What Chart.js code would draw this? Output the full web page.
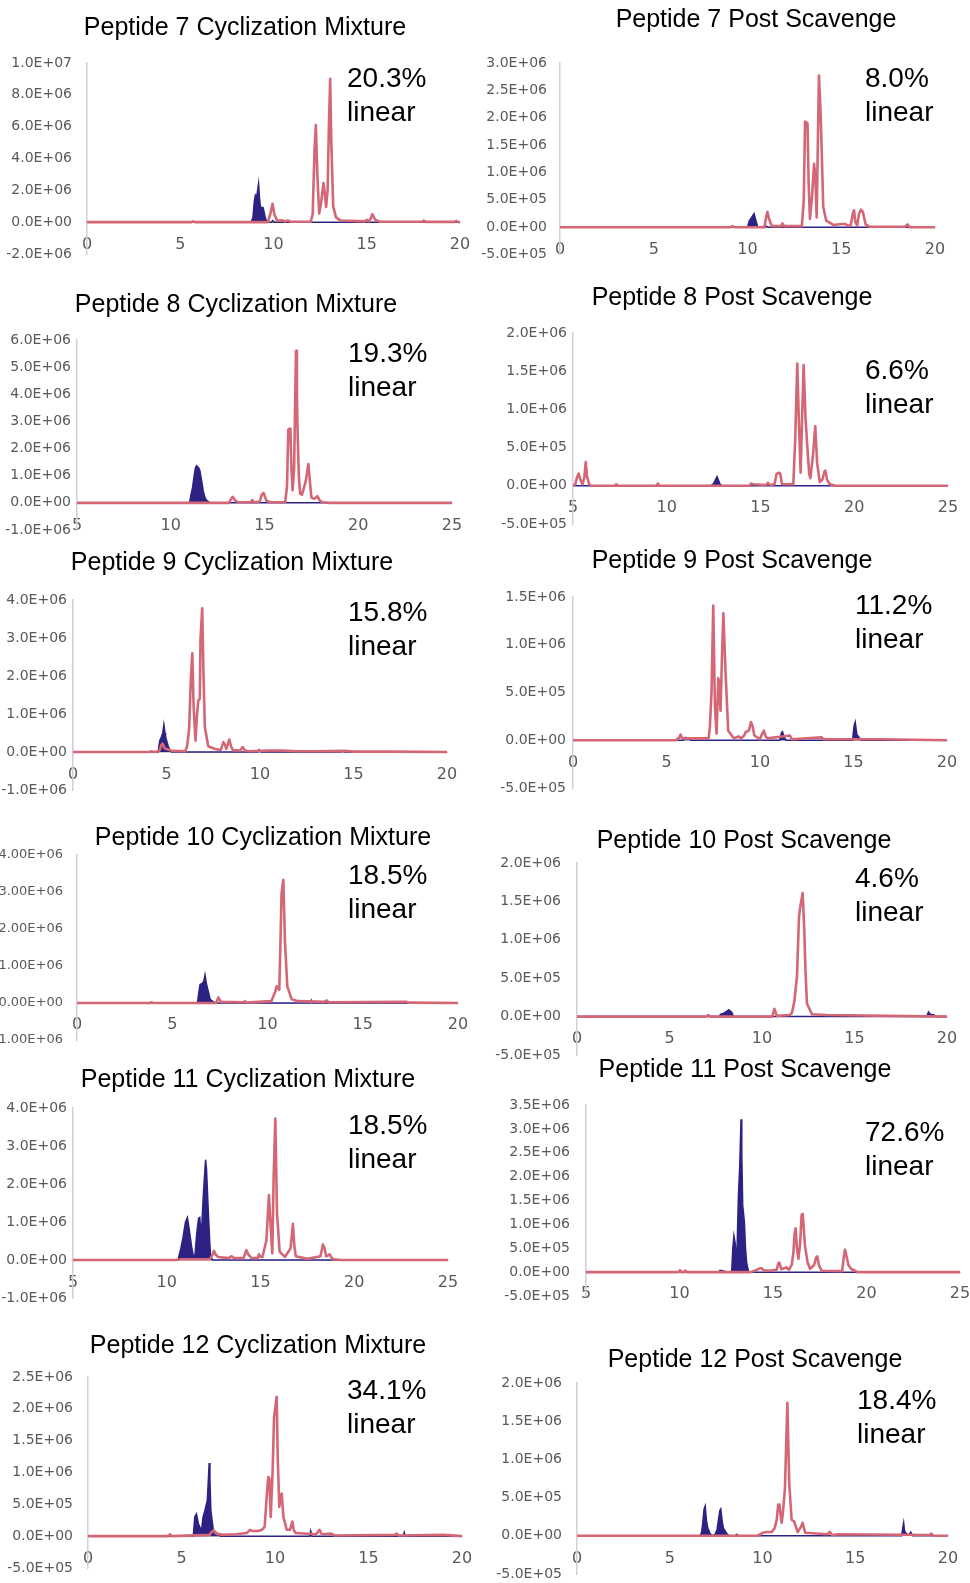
<!DOCTYPE html>
<html>
<head>
<meta charset="utf-8">
<script src="https://cdn.jsdelivr.net/npm/chart.js@4.4.1/dist/chart.umd.min.js"></script>
<style>
  html, body { margin: 0; padding: 0; background: #fff; width: 970px; height: 1583px; overflow: hidden; position: relative; }
  canvas { position: absolute; }
  .title { position: absolute; width: 500px; text-align: center; font: 25px/30px "Liberation Sans", Arial, sans-serif; color: #000; white-space: nowrap; }
  .pct { position: absolute; font: 28px/34px "Liberation Sans", Arial, sans-serif; color: #000; white-space: nowrap; }
</style>
</head>
<body>
<script>
// Retention time (min) vs. intensity (millions of counts) for each trace.
// Red = linear peptide trace, blue = cyclized peptide trace.

const p7CycRed = [[0,0],[5.6,0],[5.7,0.05],[5.8,0],[9.7,0],[9.85,0.6],[9.95,1.16],[10.05,0.5],[10.2,0.08],[10.45,0.12],[10.6,0.05],[10.8,0.1],[10.9,0.03],[12.0,0.03],[12.1,0.5],[12.2,4.5],[12.27,6.1],[12.35,3.0],[12.45,0.55],[12.55,1.2],[12.68,2.46],[12.75,1.8],[12.82,0.95],[12.9,2.0],[12.98,6.5],[13.04,9.0],[13.1,5.0],[13.2,1.0],[13.35,0.3],[13.6,0.1],[14.9,0.05],[15.0,0.15],[15.1,0.05],[15.2,0.2],[15.3,0.5],[15.45,0.15],[15.7,0.03],[18.0,0.03],[18.05,0.1],[18.15,0.02],[19.7,0.02],[19.8,0.08],[19.9,0.01],[20,0]];
const p7CycBlue = [[0,0],[8.8,0],[8.9,0.3],[8.97,1.3],[9.03,1.7],[9.1,1.6],[9.15,2.0],[9.2,2.42],[9.25,1.5],[9.3,0.95],[9.45,0.9],[9.55,0.3],[9.65,0],[9.9,0],[9.95,0.1],[10.05,0],[20,0]];

const p7PostRed = [[0,0],[9.1,0],[9.2,0.02],[9.3,0],[10.9,0],[11.0,0.2],[11.06,0.28],[11.15,0.15],[11.3,0.02],[11.8,0.02],[11.86,0.07],[11.95,0.02],[12.9,0.02],[13.0,0.5],[13.07,1.93],[13.2,1.9],[13.26,0.8],[13.33,0.15],[13.45,0.6],[13.55,1.16],[13.62,0.9],[13.69,0.18],[13.75,1.5],[13.81,2.77],[13.9,2.08],[14.04,0.37],[14.2,0.12],[14.6,0.04],[15.0,0.06],[15.2,0.06],[15.35,0.03],[15.5,0.03],[15.62,0.25],[15.68,0.31],[15.75,0.1],[15.85,0.03],[15.95,0.25],[16.05,0.32],[16.15,0.28],[16.3,0.05],[16.5,0.01],[18.4,0.01],[18.54,0.05],[18.65,0],[20,0]];
const p7PostBlue = [[0,0],[10.0,0],[10.1,0.12],[10.22,0.18],[10.35,0.25],[10.45,0.12],[10.55,0],[10.95,0],[11.0,0.02],[11.1,0],[20,0]];

const p8CycRed = [[5,0],[13.1,0],[13.2,0.12],[13.3,0.22],[13.45,0.08],[13.6,0.02],[14.25,0.02],[14.35,0.1],[14.45,0.02],[14.75,0.05],[14.85,0.3],[14.95,0.37],[15.1,0.08],[15.3,0.02],[16.1,0.02],[16.2,0.6],[16.27,2.7],[16.38,2.74],[16.44,1.2],[16.5,0.47],[16.58,1.3],[16.63,3.5],[16.68,5.6],[16.73,4.0],[16.77,2.43],[16.83,1.0],[16.9,0.34],[17.0,0.3],[17.2,0.8],[17.34,1.43],[17.42,0.8],[17.5,0.2],[17.65,0.15],[17.75,0.2],[17.82,0.25],[17.95,0.08],[18.1,0.02],[18.5,0],[25,0]];
const p8CycBlue = [[5,0],[11.0,0],[11.08,0.3],[11.16,0.55],[11.25,1.0],[11.32,1.3],[11.38,1.37],[11.48,1.3],[11.55,1.2],[11.65,0.8],[11.73,0.45],[11.82,0.2],[11.9,0.1],[12.09,0],[25,0]];

const p8PostRed = [[5,0],[5.12,0.02],[5.2,0.1],[5.3,0.16],[5.4,0.08],[5.5,0.02],[5.6,0.1],[5.68,0.31],[5.75,0.12],[5.85,0.03],[5.95,0],[7.25,0],[7.3,0.02],[7.4,0],[9.45,0],[9.53,0.03],[9.6,0],[14.4,0],[14.5,0.03],[14.6,0.02],[15.3,0.01],[15.4,0.04],[15.5,0.01],[15.75,0.02],[15.85,0.15],[15.95,0.17],[16.05,0.16],[16.15,0.02],[16.75,0.02],[16.85,0.6],[16.96,1.6],[17.04,0.9],[17.14,0.17],[17.22,0.9],[17.3,1.58],[17.4,0.89],[17.5,0.5],[17.6,0.15],[17.66,0.1],[17.8,0.4],[17.92,0.78],[18.02,0.3],[18.16,0.05],[18.3,0.08],[18.4,0.18],[18.46,0.2],[18.55,0.08],[18.7,0.02],[19.0,0],[25,0]];
const p8PostBlue = [[5,0],[12.35,0],[12.5,0.03],[12.6,0.08],[12.68,0.12],[12.78,0.06],[12.85,0.02],[12.95,0],[25,0]];

const p9CycRed = [[0,0],[4.1,0],[4.2,0.02],[4.3,0],[4.55,0.02],[4.64,0.05],[4.72,0.18],[4.79,0.22],[4.9,0.1],[5.0,0.08],[5.3,0.03],[6.0,0.02],[6.1,0.15],[6.21,0.6],[6.3,1.9],[6.38,2.6],[6.45,1.2],[6.55,0.3],[6.62,0.9],[6.7,1.36],[6.78,1.4],[6.82,3.0],[6.91,3.78],[6.98,2.0],[7.05,0.66],[7.23,0.15],[7.6,0.08],[7.9,0.05],[8.04,0.26],[8.12,0.2],[8.2,0.08],[8.36,0.33],[8.45,0.15],[8.55,0.05],[8.95,0.04],[9.07,0.13],[9.2,0.04],[9.4,0.02],[10.5,0.04],[11.2,0.04],[12.0,0.02],[13.0,0.02],[14.5,0.03],[15.0,0.01],[17.0,0.01],[20,0]];
const p9CycBlue = [[0,0],[4.55,0],[4.64,0.3],[4.73,0.4],[4.8,0.5],[4.86,0.72],[4.92,0.5],[4.95,0.4],[5.09,0.15],[5.2,0.05],[5.27,0],[9.9,0],[9.95,0.06],[10.05,0],[14.35,0],[14.42,0.03],[14.5,0],[20,0]];

const p9PostRed = [[0,0],[5.5,0],[5.7,0.03],[5.75,0.06],[5.85,0.02],[7.25,0.02],[7.32,0.14],[7.41,0.52],[7.5,1.41],[7.59,0.35],[7.68,0.07],[7.77,0.65],[7.82,0.6],[7.89,0.31],[7.97,0.9],[8.04,1.33],[8.1,1.0],[8.16,0.7],[8.3,0.1],[8.6,0.02],[8.85,0.04],[9.0,0.02],[9.15,0.05],[9.25,0.09],[9.4,0.1],[9.52,0.19],[9.6,0.15],[9.7,0.05],[10.0,0.01],[10.12,0.07],[10.21,0.1],[10.3,0.04],[10.4,0.02],[11.6,0.05],[11.7,0.01],[13.3,0.03],[13.4,0.01],[16.5,0.01],[20,0]];
const p9PostBlue = [[0,0],[5.9,0],[6.0,0.03],[6.2,0.02],[6.3,0],[11.05,0],[11.15,0.08],[11.2,0.09],[11.3,0.03],[11.4,0],[14.95,0],[15.03,0.15],[15.09,0.19],[15.18,0.06],[15.3,0.03],[15.4,0],[20,0]];

const p10CycRed = [[0,0],[3.85,0],[3.9,0.02],[4.0,0],[7.3,0],[7.42,0.15],[7.55,0.03],[8.75,0.02],[8.82,0.05],[8.9,0.01],[10.2,0.05],[10.4,0.3],[10.48,0.45],[10.62,0.36],[10.74,2.97],[10.83,3.33],[10.92,1.62],[11.04,0.45],[11.27,0.1],[11.6,0.05],[13.0,0.03],[13.1,0.07],[13.2,0.02],[17.3,0.03],[17.4,0.01],[20,0]];
const p10CycBlue = [[0,0],[6.32,0],[6.4,0.3],[6.46,0.5],[6.59,0.54],[6.66,0.6],[6.72,0.76],[6.8,0.5],[6.85,0.4],[6.99,0.1],[7.2,0.02],[7.3,0],[12.25,0],[12.3,0.07],[12.35,0],[20,0]];

const p10PostRed = [[0,0],[7.0,0],[7.1,0.02],[7.2,0],[10.55,0],[10.67,0.1],[10.8,0.01],[11.5,0.02],[11.62,0.05],[11.75,0.2],[11.89,0.52],[12.0,1.3],[12.07,1.43],[12.2,1.61],[12.29,1.09],[12.35,0.6],[12.43,0.17],[12.7,0.03],[13.5,0.02],[20,0]];
const p10PostBlue = [[0,0],[7.7,0],[7.75,0.03],[7.9,0.04],[8.1,0.07],[8.2,0.09],[8.3,0.07],[8.38,0.05],[8.45,0],[18.9,0],[19.0,0.06],[19.1,0.03],[19.3,0.02],[19.4,0],[20,0]];

const p11CycRed = [[5,0],[10.5,0],[10.8,0.02],[12.3,0.02],[12.45,0.15],[12.52,0.24],[12.6,0.15],[12.73,0.08],[13.3,0.05],[13.44,0.1],[13.6,0.05],[14.1,0.05],[14.24,0.26],[14.35,0.15],[14.5,0.06],[14.85,0.05],[14.92,0.15],[15.0,0.08],[15.1,0.08],[15.31,0.5],[15.45,1.71],[15.55,0.8],[15.63,0.18],[15.7,2.15],[15.79,3.72],[15.88,1.23],[16.02,0.22],[16.3,0.08],[16.6,0.3],[16.73,0.95],[16.8,0.4],[16.88,0.1],[17.5,0.03],[18.2,0.1],[18.33,0.41],[18.42,0.3],[18.5,0.1],[18.6,0.12],[18.69,0.15],[18.8,0.05],[18.9,0.02],[19.3,0],[25,0]];
const p11CycBlue = [[5,0],[10.6,0],[10.75,0.3],[10.87,0.6],[11.0,1.0],[11.1,1.12],[11.2,0.8],[11.31,0.4],[11.4,0.15],[11.49,0.05],[11.55,0.4],[11.61,0.75],[11.7,1.1],[11.76,1.12],[11.84,0.6],[11.95,1.7],[12.07,2.64],[12.12,2.4],[12.2,1.45],[12.3,0.4],[12.34,0.1],[12.45,0],[25,0]];

const p11PostRed = [[5,0],[9.95,0],[10.03,0.04],[10.1,0],[10.25,0],[10.3,0.03],[10.4,0],[13.8,0],[14.1,0.04],[14.3,0.08],[14.39,0.08],[14.5,0.04],[14.8,0.03],[15.2,0.05],[15.28,0.18],[15.34,0.2],[15.45,0.06],[15.6,0.08],[15.7,0.1],[15.85,0.05],[16.0,0.15],[16.09,0.4],[16.15,0.8],[16.21,0.92],[16.28,0.5],[16.36,0.28],[16.45,0.6],[16.53,1.2],[16.59,1.22],[16.71,0.55],[16.85,0.2],[16.98,0.07],[17.2,0.15],[17.3,0.3],[17.37,0.33],[17.45,0.15],[17.6,0.03],[18.7,0.02],[18.78,0.3],[18.85,0.47],[18.95,0.3],[19.03,0.15],[19.2,0.06],[19.35,0.04],[19.5,0],[25,0]];
const p11PostBlue = [[5,0],[12.1,0],[12.17,0.04],[12.3,0.03],[12.5,0.01],[12.79,0],[12.85,0.5],[12.91,0.76],[12.98,0.6],[13.06,0.2],[13.1,0.8],[13.15,1.6],[13.22,2.2],[13.29,3.2],[13.33,2.5],[13.38,1.4],[13.47,1.05],[13.53,0.5],[13.59,0.2],[13.7,0],[25,0]];

const p12CycRed = [[0,0],[4.3,0],[4.38,0.03],[4.5,0],[6.5,0.02],[6.6,0.06],[6.7,0.09],[6.85,0.04],[7.2,0.02],[7.9,0.03],[8.5,0.05],[8.66,0.1],[8.8,0.08],[9.1,0.08],[9.3,0.1],[9.45,0.15],[9.55,0.6],[9.64,0.93],[9.7,0.9],[9.77,0.3],[9.87,1.0],[9.95,1.87],[10.09,2.19],[10.15,1.2],[10.23,0.46],[10.3,0.6],[10.36,0.67],[10.45,0.3],[10.63,0.1],[10.8,0.1],[10.93,0.23],[11.0,0.1],[11.1,0.05],[12.2,0.03],[12.38,0.1],[12.5,0.03],[13.0,0.04],[13.2,0.01],[16.4,0.02],[16.5,0.04],[16.6,0.01],[19.0,0.02],[20,0]];
const p12CycBlue = [[0,0],[5.63,0],[5.71,0.3],[5.8,0.35],[5.9,0.2],[6.07,0.08],[6.15,0.3],[6.25,0.4],[6.38,0.56],[6.48,1.15],[6.52,0.9],[6.57,0.4],[6.7,0.1],[7.0,0.02],[7.1,0],[11.85,0],[11.91,0.08],[11.97,0],[16.85,0],[16.91,0.06],[16.97,0],[20,0]];

const p12PostRed = [[0,0],[9.7,0],[9.9,0.02],[10.0,0.04],[10.22,0.05],[10.5,0.05],[10.65,0.1],[10.76,0.2],[10.85,0.41],[10.91,0.41],[11.03,0.17],[11.1,0.3],[11.21,0.62],[11.34,1.74],[11.44,0.69],[11.57,0.21],[11.7,0.19],[11.9,0.05],[12.08,0.12],[12.16,0.17],[12.3,0.04],[13.5,0.02],[13.63,0.05],[13.75,0.01],[14.1,0.02],[19.0,0.01],[19.1,0.03],[19.2,0],[20,0]];
const p12PostBlue = [[0,0],[6.64,0],[6.72,0.05],[6.78,0.17],[6.85,0.35],[6.91,0.39],[6.98,0.2],[7.05,0.1],[7.17,0.03],[7.3,0],[7.44,0.02],[7.55,0.08],[7.62,0.2],[7.7,0.33],[7.75,0.35],[7.82,0.2],[7.89,0.1],[8.07,0.03],[8.2,0],[8.55,0],[8.61,0.02],[8.7,0],[17.5,0],[17.56,0.1],[17.61,0.17],[17.66,0.06],[17.75,0.03],[17.9,0.01],[17.99,0.05],[18.1,0],[20,0]];

// Panel titles and linear-fraction labels
const titles = [
  'Peptide 7 Cyclization Mixture', 'Peptide 7 Post Scavenge',
  'Peptide 8 Cyclization Mixture', 'Peptide 8 Post Scavenge',
  'Peptide 9 Cyclization Mixture', 'Peptide 9 Post Scavenge',
  'Peptide 10 Cyclization Mixture', 'Peptide 10 Post Scavenge',
  'Peptide 11 Cyclization Mixture', 'Peptide 11 Post Scavenge',
  'Peptide 12 Cyclization Mixture', 'Peptide 12 Post Scavenge'
];
const linearPct = ['20.3%', '8.0%', '19.3%', '6.6%', '15.8%', '11.2%', '18.5%', '4.6%', '18.5%', '72.6%', '34.1%', '18.4%'];

// Axis ranges: x [min, max] in minutes; y [min, max, step] in millions
const xRanges = [[0,20],[0,20],[5,25],[5,25],[0,20],[0,20],[0,20],[0,20],[5,25],[5,25],[0,20],[0,20]];
const yRanges = [[-2,10,2],[-0.5,3,0.5],[-1,6,1],[-0.5,2,0.5],[-1,4,1],[-0.5,1.5,0.5],[-1,4,1],[-0.5,2,0.5],[-1,4,1],[-0.5,3.5,0.5],[-0.5,2.5,0.5],[-0.5,2,0.5]];
const yDecimals = [1,1,1,1,1,1,2,1,1,1,1,1];

const redTraces = [p7CycRed, p7PostRed, p8CycRed, p8PostRed, p9CycRed, p9PostRed, p10CycRed, p10PostRed, p11CycRed, p11PostRed, p12CycRed, p12PostRed];
const blueTraces = [p7CycBlue, p7PostBlue, p8CycBlue, p8PostBlue, p9CycBlue, p9PostBlue, p10CycBlue, p10PostBlue, p11CycBlue, p11PostBlue, p12CycBlue, p12PostBlue];

// Page layout of each panel: plot box (px), y-label gap, x-label offset below zero,
// y-label font size, title centre/baseline, label left/baseline
const layout = [
  {l:87,  r:460, t:63,   b:254,  gap:15, xo:22.5, fs:14, tc:[245,35],   pc:[347,88]},
  {l:560, r:935, t:63,   b:254.6,gap:13, xo:22.5, fs:14, tc:[756,27],   pc:[865,88]},
  {l:77,  r:452, t:340,  b:530,  gap:6,  xo:22.5, fs:14, tc:[236,312],  pc:[348,363]},
  {l:573, r:948, t:333,  b:524,  gap:6,  xo:22.5, fs:14, tc:[732,305],  pc:[865,380]},
  {l:73,  r:447, t:600,  b:790,  gap:6,  xo:22.5, fs:14, tc:[232,570],  pc:[348,622]},
  {l:573, r:947, t:597,  b:788,  gap:7,  xo:23,   fs:14, tc:[732,568],  pc:[855,615]},
  {l:77,  r:458, t:855,  b:1040, gap:14, xo:22,   fs:13, tc:[263,845],  pc:[348,885]},
  {l:577, r:947, t:863,  b:1055, gap:16, xo:22.5, fs:14, tc:[744,848],  pc:[855,888]},
  {l:73,  r:448, t:1108, b:1298, gap:6,  xo:22.5, fs:14, tc:[248,1087], pc:[348,1135]},
  {l:586, r:960, t:1105, b:1296, gap:16, xo:22,   fs:14, tc:[745,1077], pc:[865,1142]},
  {l:88,  r:462, t:1377, b:1568, gap:15, xo:22.5, fs:14, tc:[258,1353], pc:[347,1400]},
  {l:577, r:948, t:1383, b:1574, gap:15, xo:23,   fs:14, tc:[755,1367], pc:[857,1410]}
];

const RED = 'rgb(212,102,118)';
const BLUE = 'rgb(44,34,132)';
const TICK_GRAY = '#595959';
const AXIS_GRAY = '#d0d0d0';

// 2.0E+06 style labels
function sciLabel(vMillions, digits) {
  const s = (vMillions * 1e6).toExponential(digits);
  const [mant, exp] = s.split('e');
  const sign = exp[0];
  const num = exp.slice(1).padStart(2, '0');
  return mant + 'E' + sign + num;
}

function addText(cls, text, left, top) {
  const d = document.createElement('div');
  d.className = cls;
  d.textContent = text;
  d.style.left = left + 'px';
  d.style.top = top + 'px';
  document.body.appendChild(d);
  return d;
}

// generous margin around each plot so label overhang never squeezes the plot box
const PAD_V = 40;

titles.forEach((title, i) => {
  const L = layout[i];
  const rightCol = i % 2 === 1;
  const cl = rightCol ? 470 : 0;
  const cw = rightCol ? 540 : 510;
  const ct = L.t - PAD_V;
  const ch = Math.round((L.b - L.t) + 2 * PAD_V);

  const canvas = document.createElement('canvas');
  canvas.width = cw;
  canvas.height = ch;
  canvas.style.left = cl + 'px';
  canvas.style.top = ct + 'px';
  canvas.style.width = cw + 'px';
  canvas.style.height = ch + 'px';
  document.body.appendChild(canvas);

  const yAxisWidth = L.l - cl;
  const [xmin, xmax] = xRanges[i];
  const [ymin, ymax, ystep] = yRanges[i];
  const dec = yDecimals[i];

  new Chart(canvas.getContext('2d'), {
    type: 'line',
    data: {
      datasets: [
        { data: redTraces[i], borderColor: RED, borderWidth: 2.6, pointRadius: 0, fill: false, tension: 0, borderJoinStyle: 'round' },
        { data: blueTraces[i], borderColor: BLUE, backgroundColor: BLUE, borderWidth: 1.5, pointRadius: 0, fill: 'origin', tension: 0 }
      ]
    },
    options: {
      responsive: false,
      animation: false,
      events: [],
      layout: { padding: { left: 0, top: PAD_V, bottom: ch - (L.b - L.t) - PAD_V, right: cl + cw - L.r } },
      plugins: { legend: { display: false }, tooltip: { enabled: false } },
      scales: {
        x: {
          type: 'linear',
          position: { y: 0 },
          min: xmin, max: xmax,
          grid: { display: true, drawOnChartArea: false, drawTicks: false },
          border: { display: true, color: AXIS_GRAY, width: 1 },
          ticks: { stepSize: 5, padding: L.xo - 9.6, color: TICK_GRAY, font: { family: 'DejaVu Sans', size: 16 }, maxRotation: 0, autoSkip: false }
        },
        y: {
          type: 'linear',
          min: ymin, max: ymax,
          grid: { display: true, drawOnChartArea: false, drawTicks: false },
          border: { display: true, color: AXIS_GRAY, width: 1.5 },
          ticks: { stepSize: ystep, padding: L.gap, color: TICK_GRAY, autoSkip: false, font: { family: 'DejaVu Sans', size: L.fs }, callback: v => sciLabel(v, dec) },
          afterFit: scale => { scale.width = yAxisWidth; }
        }
      }
    }
  });

  // title: 25px font, 30px line box -> baseline ~23.7px below the box top
  addText('title', title, L.tc[0] - 250, L.tc[1] - 23.7);
  // linear fraction: 28px font, 34px line box -> baseline ~26.7px below the box top
  addText('pct', linearPct[i], L.pc[0], L.pc[1] - 26.7);
  addText('pct', 'linear', L.pc[0], L.pc[1] - 26.7 + 34);
});
</script>
</body>
</html>
